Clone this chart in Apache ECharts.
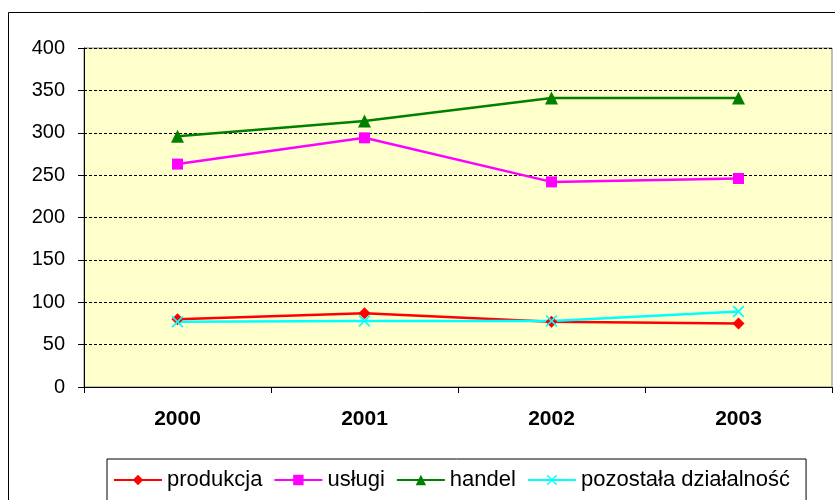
<!DOCTYPE html>
<html>
<head>
<meta charset="utf-8">
<script src="https://cdn.jsdelivr.net/npm/echarts@6/dist/echarts.min.js"></script>
<style>
html,body{margin:0;padding:0;background:#fff;}
#chart{width:835px;height:500px;}
</style>
</head>
<body>
<div id="chart"></div>
<script>
var years = ['2000', '2001', '2002', '2003'];
var produkcja = [80, 87, 77, 75];
var uslugi = [263, 294, 242, 246];
var handel = [296, 314, 341, 341];
var pozostala = [77, 78, 78, 89];

var crossPath = 'path://M0,1L1,0L5,4L9,0L10,1L6,5L10,9L9,10L5,6L1,10L0,9L4,5Z';

function makeSeries(name, values, col, symbol, size) {
	return {
		name: name,
		type: 'line',
		data: values,
		symbol: symbol,
		symbolSize: size,
		lineStyle: { color: col, width: 2.5 },
		itemStyle: { color: col },
		animation: false
	};
}

var myChart = echarts.init(document.getElementById('chart'));
var option = {
	textStyle: { fontFamily: 'Liberation Sans, Arial, sans-serif' },
	graphic: [
		{
			type: 'rect',
			shape: { x: 8.5, y: 12.5, width: 840, height: 500 },
			style: { fill: 'none', stroke: '#000', lineWidth: 1 },
			z: -1
		}
	],
	grid: {
		left: 84,
		right: 3,
		top: 48,
		bottom: 113,
		show: true,
		backgroundColor: '#FFFFCC',
		borderColor: '#808080',
		borderWidth: 1
	},
	legend: {
		left: 107,
		top: 459,
		width: 720,
		padding: [10, 16, 16, 6],
		borderColor: '#000',
		borderWidth: 1,
		itemWidth: 48,
		itemHeight: 13,
		itemGap: 11,
		textStyle: { fontSize: 22, color: '#000', fontFamily: 'Liberation Sans, Arial, sans-serif' },
		data: ['produkcja', 'usługi', 'handel', 'pozostała działalność']
	},
	xAxis: {
		type: 'category',
		data: years,
		axisLine: { lineStyle: { color: '#000', width: 1 } },
		axisTick: { show: true, length: 6, lineStyle: { color: '#000' } },
		axisLabel: { fontSize: 21, fontWeight: 'bold', color: '#000', margin: 22 },
		splitLine: { show: false }
	},
	yAxis: {
		type: 'value',
		min: 0,
		max: 400,
		interval: 50,
		axisLine: { show: true, lineStyle: { color: '#000', width: 1 } },
		axisTick: { show: true, length: 6, lineStyle: { color: '#000' } },
		axisLabel: { fontSize: 20, color: '#000', margin: 19 },
		splitLine: { show: true, lineStyle: { color: '#000', type: [3, 2], width: 1 } }
	},
	series: [
		makeSeries('produkcja', produkcja, '#FF0000', 'diamond', 12),
		makeSeries('usługi', uslugi, '#FF00FF', 'rect', 11),
		makeSeries('handel', handel, '#008000', 'triangle', 13),
		makeSeries('pozostała działalność', pozostala, '#00FFFF', crossPath, 12)
	]
};
myChart.setOption(option);
</script>
</body>
</html>
